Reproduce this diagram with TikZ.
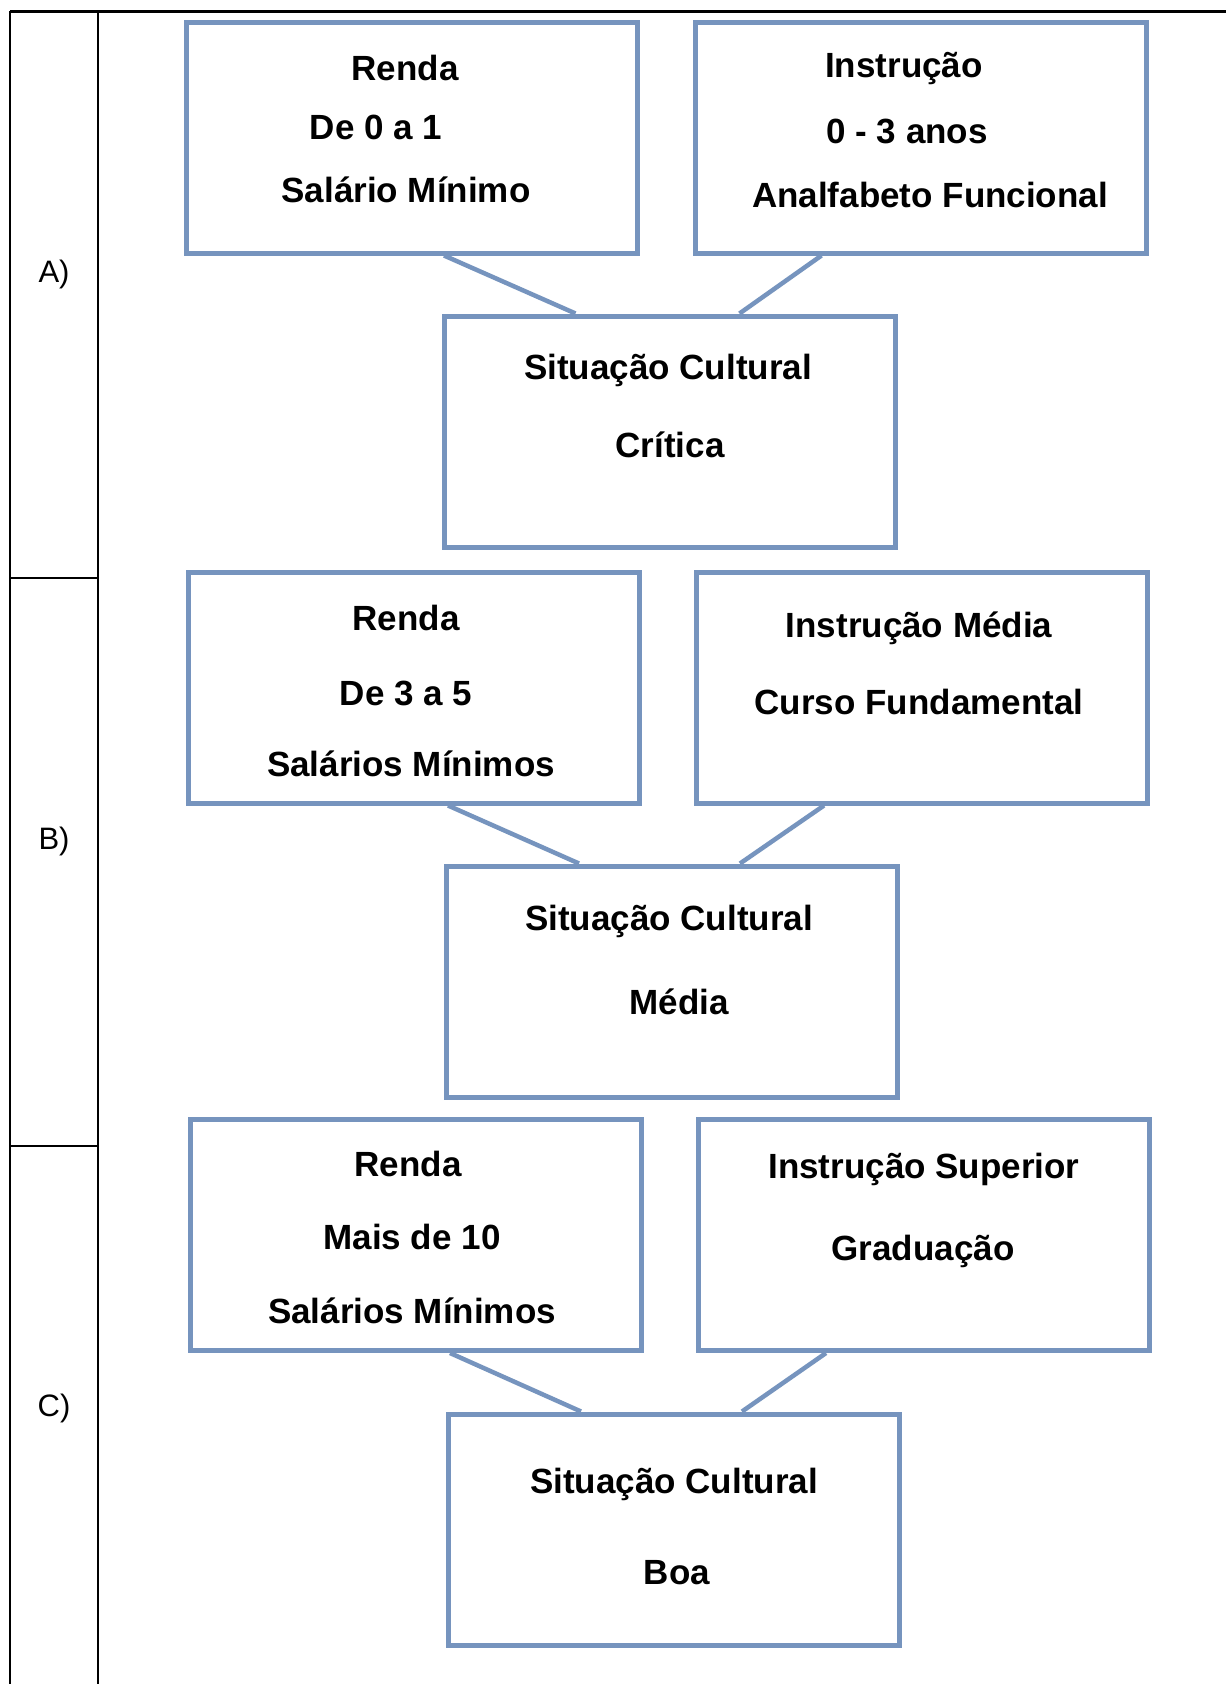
\documentclass[tikz,border=0pt]{standalone}
\usepackage{fontspec}
\setmainfont{Liberation Sans}
\usetikzlibrary{calc}
\definecolor{boxblue}{RGB}{118,148,190}
\begin{document}
\begin{tikzpicture}[x=1pt,y=-1pt,
  stepbox/.style={draw=boxblue,line width=5pt,minimum width=451pt,minimum height=231pt,inner sep=0pt,fill=white},
  conn/.style={draw=boxblue,line width=4.5pt},
  txt/.style={font=\fontsize{35}{40}\selectfont\bfseries,anchor=base,inner sep=0pt},
  lbl/.style={font=\fontsize{31}{36}\selectfont,anchor=base,inner sep=0pt},
  rule/.style={draw=black,line width=2pt}]
\useasboundingbox (0,0) rectangle (1226,1684);
\fill[white] (0,0) rectangle (1226,1684);
% table lines
\coordinate (tl) at (10,11);
\coordinate (tr) at (1226,11);
\coordinate (bl) at (10,1684);
\coordinate (sx) at (98,11);
\coordinate (sb) at (98,1684);
\coordinate (h1l) at (10,578);
\coordinate (h1r) at (98,578);
\coordinate (h2l) at (10,1146);
\coordinate (h2r) at (98,1146);
\draw[rule,line width=3pt] (tl) -- (tr);
\draw[rule] (tl) -- (bl);
\draw[rule] (sx) -- (sb);
\draw[rule] (h1l) -- (h1r);
\draw[rule] (h2l) -- (h2r);
\node[lbl] (la) at (54,282) {A)};
\node[lbl] (lb) at (54,849) {B)};
\node[lbl] (lc) at (54,1416) {C)};
% section A
\node[stepbox] (ar) at (412,137.5) {};
\node[stepbox] (ai) at (920.5,137.5) {};
\node[stepbox] (as) at (669.5,431.5) {};
\draw[conn] ([xshift=260pt]ar.south west) -- ([xshift=134pt]as.north west);
\draw[conn] ([xshift=129pt]ai.south west) -- ([xshift=298pt]as.north west);
\node[txt] (ar1) at (405,80) {Renda};
\node[txt] (ar2) at (376,139) {De 0 a 1};
\node[txt] (ar3) at (406,202) {Salário Mínimo};
\node[txt] (ai1) at (904,77) {Instrução};
\node[txt] (ai2) at (907,143) {0 - 3 anos};
\node[txt] (ai3) at (930,207) {Analfabeto Funcional};
\node[txt] (as1) at (668,379) {Situação Cultural};
\node[txt] (as2) at (670,457) {Crítica};
% section B
\node[stepbox] (br) at (414,687.5) {};
\node[stepbox] (bi) at (922,687.5) {};
\node[stepbox] (bs) at (672,981.5) {};
\draw[conn] ([xshift=262pt]br.south west) -- ([xshift=135pt]bs.north west);
\draw[conn] ([xshift=130pt]bi.south west) -- ([xshift=296pt]bs.north west);
\node[txt] (br1) at (406,630) {Renda};
\node[txt] (br2) at (406,705) {De 3 a 5};
\node[txt] (br3) at (411,776) {Salários Mínimos};
\node[txt] (bi1) at (919,637) {Instrução Média};
\node[txt] (bi2) at (919,714) {Curso Fundamental};
\node[txt] (bs1) at (669,930) {Situação Cultural};
\node[txt] (bs2) at (679,1014) {Média};
% section C
\node[stepbox] (cr) at (416,1235) {};
\node[stepbox] (ci) at (924,1235) {};
\node[stepbox] (cs) at (674,1529.5) {};
\draw[conn] ([xshift=262pt]cr.south west) -- ([xshift=135pt]cs.north west);
\draw[conn] ([xshift=130pt]ci.south west) -- ([xshift=296pt]cs.north west);
\node[txt] (cr1) at (408,1176) {Renda};
\node[txt] (cr2) at (412,1249) {Mais de 10};
\node[txt] (cr3) at (412,1323) {Salários Mínimos};
\node[txt] (ci1) at (924,1178) {Instrução Superior};
\node[txt] (ci2) at (923,1260) {Graduação};
\node[txt] (cs1) at (674,1493) {Situação Cultural};
\node[txt] (cs2) at (677,1584) {Boa};
\end{tikzpicture}
\end{document}
